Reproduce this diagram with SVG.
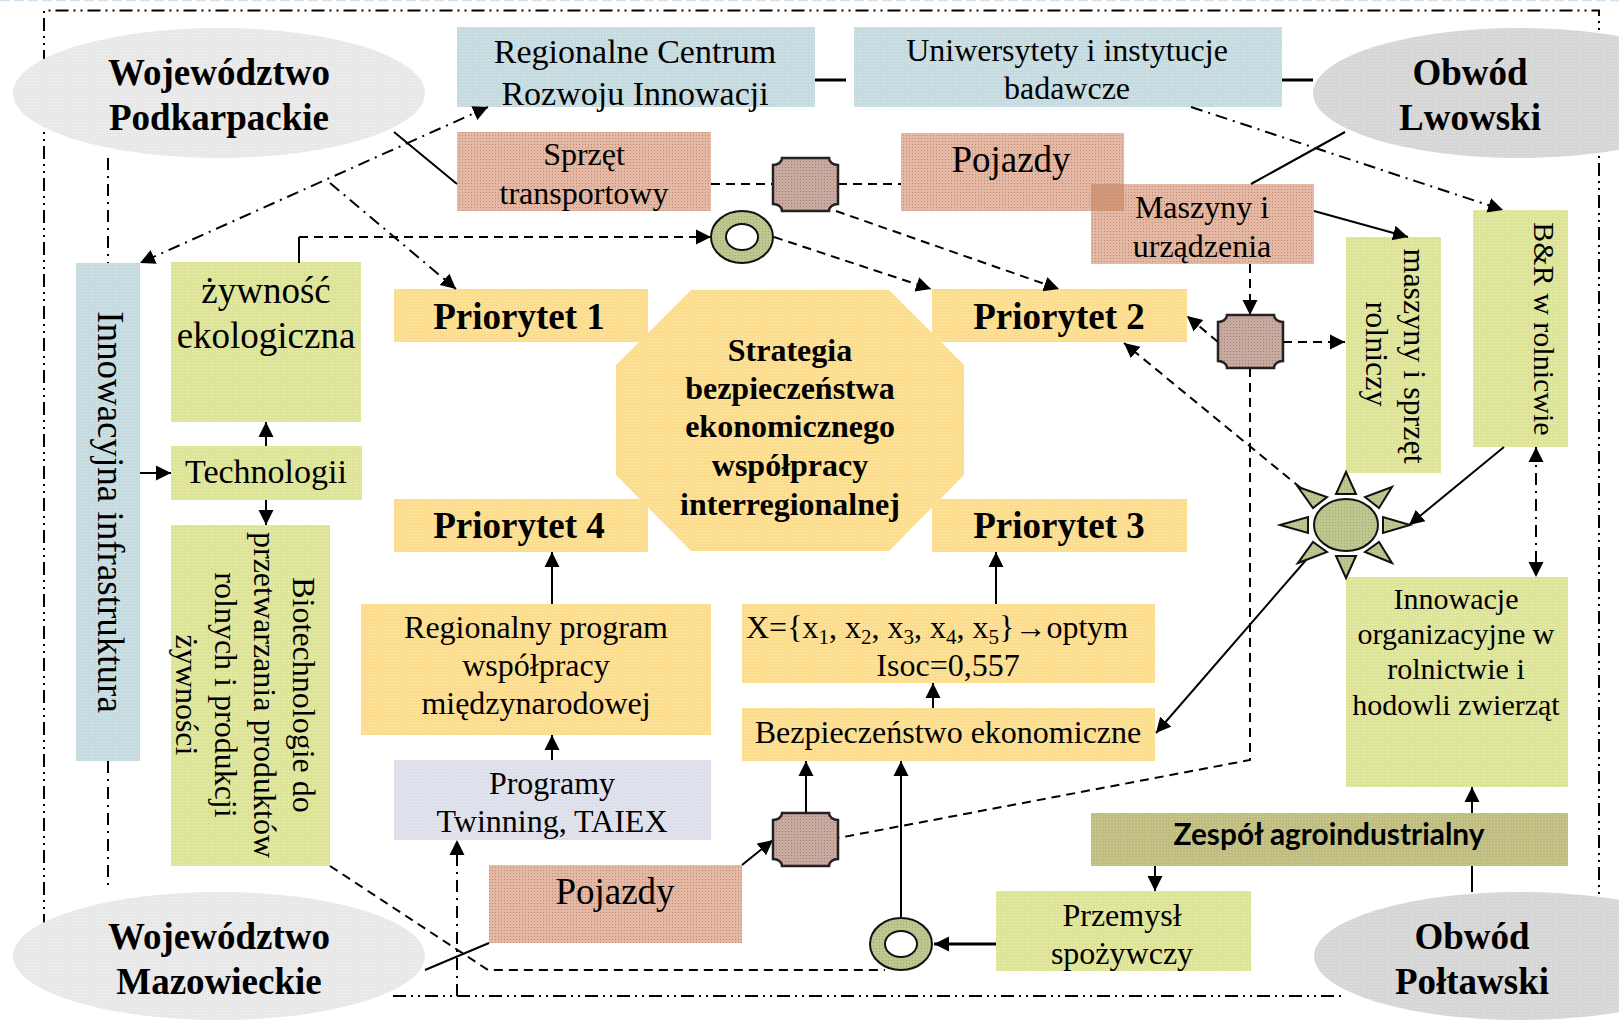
<svg xmlns="http://www.w3.org/2000/svg" width="1619" height="1020" viewBox="0 0 1619 1020">
<style>
text{font-family:"Liberation Serif","Times New Roman",serif;fill:#000;text-anchor:middle}
.s30{font-size:30px}.s32{font-size:32px}.s34{font-size:34px}.s37{font-size:37px}
.b{font-weight:bold}
.ln{fill:none;stroke:#000;stroke-width:2}
.thick{stroke-width:3}
.da{stroke-dasharray:9 6}
.dd{stroke-dasharray:13 5 2 5 2 5}
.dc{stroke-dasharray:12 6 2 6}
.ar{marker-end:url(#ah)}
.br{marker-start:url(#ah);marker-end:url(#ah)}
.sh{stroke:#222;stroke-width:2.5}
</style>
<defs>
<marker id="ah" markerUnits="userSpaceOnUse" markerWidth="16" markerHeight="16" refX="15" refY="8" orient="auto-start-reverse"><path d="M0,0.5L15,8L0,15.5Z" fill="#000"/></marker>
<pattern id="pBlue" width="3" height="3" patternUnits="userSpaceOnUse"><rect width="3" height="3" fill="#c6dbe0"/><rect width="1" height="1" fill="#dbe9ec"/></pattern>
<pattern id="pSalmon" width="3" height="3" patternUnits="userSpaceOnUse"><rect width="3" height="3" fill="#e3b8a4"/><rect width="1" height="1" fill="#c8866c"/></pattern>
<pattern id="pYellow" width="3" height="3" patternUnits="userSpaceOnUse"><rect width="3" height="3" fill="#fcdd8d"/><rect width="1" height="1" fill="#fdeab8"/></pattern>
<pattern id="pGreen" width="3" height="3" patternUnits="userSpaceOnUse"><rect width="3" height="3" fill="#dde497"/><rect width="1" height="1" fill="#ebf0bd"/></pattern>
<pattern id="pGreyL" width="3" height="3" patternUnits="userSpaceOnUse"><rect width="3" height="3" fill="#e8e8e8"/><rect width="1" height="1" fill="#f2f2f2"/></pattern>
<pattern id="pGrey" width="3" height="3" patternUnits="userSpaceOnUse"><rect width="3" height="3" fill="#d6d6d6"/><rect width="1" height="1" fill="#e4e4e4"/></pattern>
<pattern id="pLav" width="3" height="3" patternUnits="userSpaceOnUse"><rect width="3" height="3" fill="#dddfea"/><rect width="1" height="1" fill="#e9ebf2"/></pattern>
<pattern id="pOlive" width="3" height="3" patternUnits="userSpaceOnUse"><rect width="3" height="3" fill="#bfbe80"/><rect width="1" height="1" fill="#d2d19f"/></pattern>
<pattern id="pBrown" width="3" height="3" patternUnits="userSpaceOnUse"><rect width="3" height="3" fill="#c8aaa0"/><rect width="1" height="1" fill="#a87f74"/></pattern>
<pattern id="pSun" width="3" height="3" patternUnits="userSpaceOnUse"><rect width="3" height="3" fill="#bfc690"/><rect width="1" height="1" fill="#a3ab6c"/></pattern>
<path id="plaque" d="M9,0H56A9,7 0 0 0 65,7V46A9,7 0 0 0 56,53H9A9,7 0 0 0 0,46V7A9,7 0 0 0 9,0Z" fill="url(#pBrown)" stroke="#222" stroke-width="2.5"/>
</defs>
<rect width="1619" height="1020" fill="#fff"/>
<path d="M0,0.5H1619" fill="none" stroke="#cfe0ee" stroke-width="1.5" stroke-dasharray="10 4"/>
<g id="frame"><path class="ln dd" d="M44,927V10.5H1599V917M393,996H1344"/></g>

<g id="woj-podkarpackie"><ellipse cx="219" cy="93" rx="206" ry="65" fill="url(#pGreyL)"/><text class="s37 b" x="219" y="85">Województwo</text><text class="s37 b" x="219" y="130">Podkarpackie</text></g>
<g id="obw-lwowski"><ellipse cx="1519" cy="93" rx="206" ry="65" fill="url(#pGrey)"/><text class="s37 b" x="1470" y="85">Obwód</text><text class="s37 b" x="1470" y="130">Lwowski</text></g>
<g id="woj-mazowieckie"><ellipse cx="219" cy="956" rx="206" ry="64" fill="url(#pGreyL)"/><text class="s37 b" x="219" y="949">Województwo</text><text class="s37 b" x="219" y="994">Mazowieckie</text></g>
<g id="obw-poltawski"><ellipse cx="1520" cy="956" rx="206" ry="64" fill="url(#pGrey)"/><text class="s37 b" x="1472" y="949">Obwód</text><text class="s37 b" x="1472" y="994">Połtawski</text></g>

<g id="centrum"><rect x="457" y="27" width="358" height="80" fill="url(#pBlue)"/><text class="s34" x="635" y="63">Regionalne Centrum</text><text class="s34" x="635" y="105">Rozwoju Innowacji</text></g>
<g id="uniwersytety"><rect x="854" y="27" width="428" height="80" fill="url(#pBlue)"/><text class="s32" x="1067" y="61">Uniwersytety i instytucje</text><text class="s32" x="1067" y="99">badawcze</text></g>
<g id="sprzet"><rect x="457" y="132" width="254" height="79" fill="url(#pSalmon)"/><text class="s32" x="584" y="165">Sprzęt</text><text class="s32" x="584" y="204">transportowy</text></g>
<g id="pojazdy-gora"><rect x="901" y="133" width="223" height="78" fill="url(#pSalmon)"/><text class="s37" x="1011" y="172">Pojazdy</text></g>
<g id="maszyny"><rect x="1091" y="184" width="223" height="80" fill="url(#pSalmon)"/><rect x="1091" y="184" width="33" height="27" fill="#c98d6e" opacity=".75"/><text class="s32" x="1202" y="218">Maszyny i</text><text class="s32" x="1202" y="257">urządzenia</text></g>
<g id="maszyny-rolnicze"><rect x="1346" y="237" width="95" height="236" fill="url(#pGreen)"/><text class="s32" transform="translate(1404,356) rotate(90)">maszyny i sprzęt</text><text class="s32" transform="translate(1366,354) rotate(90)">rolniczy</text></g>
<g id="br"><rect x="1473" y="210" width="95" height="237" fill="url(#pGreen)"/><text class="s30" transform="translate(1534,329) rotate(90)">B&amp;R w rolnicwie</text></g>
<g id="innowacje"><rect x="1346" y="577" width="222" height="210" fill="url(#pGreen)"/><text class="s30" x="1456" y="609">Innowacje</text><text class="s30" x="1456" y="644">organizacyjne w</text><text class="s30" x="1456" y="679">rolnictwie i</text><text class="s30" x="1456" y="715">hodowli zwierząt</text></g>
<g id="zespol"><rect x="1091" y="813" width="477" height="53" fill="url(#pOlive)"/><text x="1329" y="845" style="font-family:Lato,'Open Sans',sans-serif;font-weight:bold;font-size:30px" textLength="311" lengthAdjust="spacingAndGlyphs">Zespół agroindustrialny</text></g>
<g id="przemysl"><rect x="996" y="891" width="255" height="80" fill="url(#pGreen)"/><text class="s32" x="1122" y="926">Przemysł</text><text class="s32" x="1122" y="964">spożywczy</text></g>
<g id="pojazdy-dol"><rect x="489" y="865" width="253" height="78" fill="url(#pSalmon)"/><text class="s37" x="615" y="904">Pojazdy</text></g>
<g id="programy"><rect x="394" y="760" width="317" height="80" fill="url(#pLav)"/><text class="s32" x="552" y="794">Programy</text><text class="s32" x="552" y="832">Twinning, TAIEX</text></g>
<g id="regionalny"><rect x="361" y="604" width="350" height="131" fill="url(#pYellow)"/><text class="s32" x="536" y="638">Regionalny program</text><text class="s32" x="536" y="676">współpracy</text><text class="s32" x="536" y="714">międzynarodowej</text></g>
<g id="strategia"><path d="M691,290H889L964,365V475L889,551H691L616,475V365Z" fill="url(#pYellow)"/><text class="s32 b" x="790" y="361">Strategia</text><text class="s32 b" x="790" y="399">bezpieczeństwa</text><text class="s32 b" x="790" y="437">ekonomicznego</text><text class="s32 b" x="790" y="476">współpracy</text><text class="s32 b" x="790" y="515">interregionalnej</text></g>
<g id="priorytet-1"><rect x="394" y="289" width="254" height="53" fill="url(#pYellow)"/><text class="s37 b" x="519" y="329">Priorytet 1</text></g>
<g id="priorytet-2"><rect x="932" y="289" width="255" height="53" fill="url(#pYellow)"/><text class="s37 b" x="1059" y="329">Priorytet 2</text></g>
<g id="priorytet-3"><rect x="932" y="499" width="255" height="53" fill="url(#pYellow)"/><text class="s37 b" x="1059" y="538">Priorytet 3</text></g>
<g id="priorytet-4"><rect x="394" y="499" width="254" height="53" fill="url(#pYellow)"/><text class="s37 b" x="519" y="538">Priorytet 4</text></g>
<g id="x-optym"><rect x="742" y="604" width="413" height="79" fill="url(#pYellow)"/><text class="s32" x="746" y="638" style="text-anchor:start">X={x<tspan font-size="21" dy="6">1</tspan><tspan dy="-6">, x</tspan><tspan font-size="21" dy="6">2</tspan><tspan dy="-6">, x</tspan><tspan font-size="21" dy="6">3</tspan><tspan dy="-6">, x</tspan><tspan font-size="21" dy="6">4</tspan><tspan dy="-6">, x</tspan><tspan font-size="21" dy="6">5</tspan><tspan dy="-6">}→optym</tspan></text><text class="s32" x="948" y="676">Isoc=0,557</text></g>
<g id="bezpieczenstwo"><rect x="742" y="708" width="413" height="53" fill="url(#pYellow)"/><text class="s32" x="948" y="743">Bezpieczeństwo ekonomiczne</text></g>
<g id="infrastruktura"><rect x="76" y="263" width="64" height="498" fill="url(#pBlue)"/><text class="s37" transform="translate(98,512) rotate(90)">Innowacyjna infrastruktura</text></g>
<g id="zywnosc"><rect x="171" y="262" width="190" height="160" fill="url(#pGreen)"/><text class="s37" x="266" y="303">żywność</text><text class="s37" x="266" y="348">ekologiczna</text></g>
<g id="technologii"><rect x="171" y="446" width="191" height="54" fill="url(#pGreen)"/><text class="s34" x="266" y="483">Technologii</text></g>
<g id="biotechnologie"><rect x="171" y="525" width="159" height="341" fill="url(#pGreen)"/><text class="s32" transform="translate(293,695) rotate(90)">Biotechnologie do</text><text class="s32" transform="translate(254,695) rotate(90)">przetwarzania produktów</text><text class="s32" transform="translate(215,695) rotate(90)">rolnych i produkcji</text><text class="s32" transform="translate(176,695) rotate(90)">żywności</text></g>

<g id="laczniki">
<path class="ln thick" d="M815,80H846M1282,80H1313"/>
<path class="ln" d="M394,132L457,184M1345,132L1251,184M489,943L425,970M299,263V237"/>
<path class="ln dc br" d="M488,107L140,263"/>
<path class="ln dc ar" d="M330,183L456,289"/>
<path class="ln dc" d="M108,158V263M108,761V887"/>
<path class="ln da" d="M711,184H773M838,184H901"/>
<path class="ln da ar" d="M299,237H711"/>
<path class="ln da ar" d="M836,211L1059,289"/>
<path class="ln da ar" d="M774,237L931,289"/>
<path class="ln dc ar" d="M1191,107L1503,210"/>
<path class="ln ar" d="M1314,211L1408,237"/>
<path class="ln da ar" d="M1250,264V315"/>
<path class="ln da ar" d="M1283,342H1345"/>
<path class="ln da ar" d="M1218,342L1187,316"/>
<path class="ln da ar" d="M1313,498L1124,343"/>
<path class="ln ar" d="M1504,447L1409,525"/>
<path class="ln dc br" d="M1536,447V577"/>
<path class="ln ar" d="M1313,552L1156,733"/>
<path class="ln da" d="M1250,368V760L838,838"/>
<path class="ln ar" d="M806,813V761"/>
<path class="ln ar" d="M742,865L773,840"/>
<path class="ln ar" d="M901,917V761"/>
<path class="ln thick ar" d="M996,944H934"/>
<path class="ln ar" d="M1155,866V891"/>
<path class="ln" d="M1472,892V866"/>
<path class="ln ar" d="M1472,813V787"/>
<path class="ln ar" d="M996,604V552"/>
<path class="ln ar" d="M933,708V683"/>
<path class="ln ar" d="M552,604V552"/>
<path class="ln ar" d="M552,760V735"/>
<path class="ln ar" d="M266,446V422"/>
<path class="ln ar" d="M266,500V525"/>
<path class="ln ar" d="M140,473H171"/>
<path class="ln da" d="M330,866L488,970H885"/>
<path class="ln dc ar" d="M457,996V840"/>
</g>

<g id="laczenie-gora"><use href="#plaque" x="773" y="158"/></g>
<g id="laczenie-prawo"><use href="#plaque" x="1218" y="315"/></g>
<g id="laczenie-dol"><use href="#plaque" x="773" y="813"/></g>
<g id="pierscien-gora"><ellipse cx="742" cy="237" rx="31" ry="26" fill="url(#pSun)" stroke="#111" stroke-width="2"/><ellipse cx="742" cy="237" rx="16" ry="13" fill="#fff" stroke="#111" stroke-width="2"/></g>
<g id="pierscien-dol"><ellipse cx="901" cy="944" rx="31" ry="26" fill="url(#pSun)" stroke="#111" stroke-width="2"/><ellipse cx="901" cy="944" rx="16" ry="13" fill="#fff" stroke="#111" stroke-width="2"/></g>
<g id="slonce" fill="url(#pSun)" stroke="#111" stroke-width="2" stroke-linejoin="miter">
<ellipse cx="1346" cy="525" rx="32" ry="26"/>
<path d="M1346,472L1356,494H1336Z"/><path d="M1346,578L1356,556H1336Z"/>
<path d="M1280,525L1308,517V533Z"/><path d="M1410,525L1383,517V533Z"/>
<path d="M1392,487L1365,497L1379,508Z"/><path d="M1392,563L1365,552L1379,542Z"/>
<path d="M1298,487L1327,497L1313,508Z"/><path d="M1298,563L1327,552L1313,542Z"/>
</g>
</svg>
